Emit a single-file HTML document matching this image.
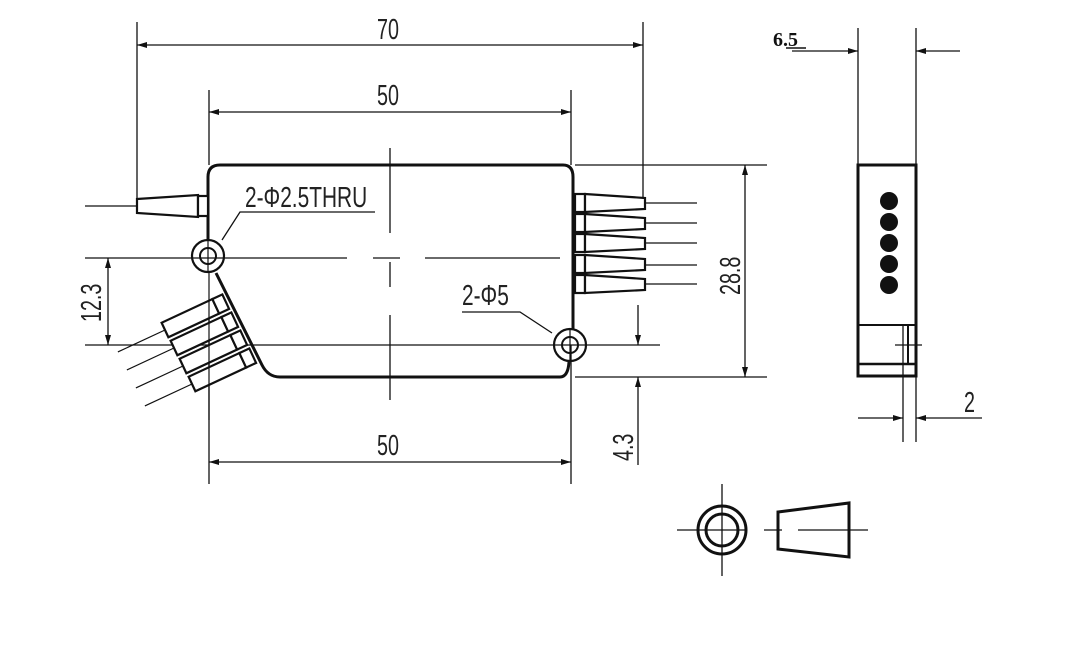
<!DOCTYPE html>
<html><head><meta charset="utf-8"><style>
html,body{margin:0;padding:0;background:#fff;}
svg{display:block}
text{font-family:"Liberation Sans",sans-serif;fill:#222;}
</style></head><body>
<svg width="1070" height="654" viewBox="0 0 1070 654" xmlns="http://www.w3.org/2000/svg">
<defs>
<marker id="a" viewBox="0 0 10 6" refX="10" refY="3" markerWidth="12" markerHeight="6" orient="auto-start-reverse" markerUnits="userSpaceOnUse"><path d="M0,0 L10,3 L0,6 z" fill="#111"/></marker>
</defs>
<g stroke="#111" fill="none" stroke-width="1.3">
<line x1="137" y1="22" x2="137" y2="205"/>
<line x1="643" y1="22" x2="643" y2="210"/>
<line x1="137" y1="45" x2="643" y2="45" marker-start="url(#a)" marker-end="url(#a)"/>
<line x1="209" y1="90" x2="209" y2="165"/>
<line x1="571" y1="90" x2="571" y2="165"/>
<line x1="209" y1="112" x2="571" y2="112" marker-start="url(#a)" marker-end="url(#a)"/>
<line x1="209" y1="300" x2="209" y2="484"/>
<line x1="571" y1="345" x2="571" y2="484"/>
<line x1="209" y1="462" x2="571" y2="462" marker-start="url(#a)" marker-end="url(#a)"/>
<line x1="575" y1="165" x2="767" y2="165"/>
<line x1="575" y1="377" x2="767" y2="377"/>
<line x1="745" y1="165" x2="745" y2="377" marker-start="url(#a)" marker-end="url(#a)"/>
<line x1="85" y1="258" x2="347" y2="258"/>
<line x1="373" y1="258" x2="400" y2="258"/>
<line x1="425" y1="258" x2="560" y2="258"/>
<line x1="85" y1="345" x2="660" y2="345"/>
<line x1="108" y1="258" x2="108" y2="345" marker-start="url(#a)" marker-end="url(#a)"/>
<line x1="638" y1="305" x2="638" y2="345" marker-end="url(#a)"/>
<line x1="638" y1="465" x2="638" y2="377" marker-end="url(#a)"/>
<line x1="390" y1="148" x2="390" y2="233"/>
<line x1="390" y1="262" x2="390" y2="287"/>
<line x1="390" y1="315" x2="390" y2="400"/>
<line x1="85" y1="206" x2="137" y2="206"/>
<line x1="645" y1="203" x2="697" y2="203"/>
<line x1="645" y1="223" x2="697" y2="223"/>
<line x1="645" y1="243" x2="697" y2="243"/>
<line x1="645" y1="265" x2="697" y2="265"/>
<line x1="645" y1="284" x2="697" y2="284"/>
<polyline points="375,212 240,212 222,240" />
<polyline points="462,312 520,312 552,333" />
</g>
<g stroke="#111" fill="none" stroke-width="3">
<path d="M208,240 L208,177 Q208,165 220,165 L563,165 Q573,165 573,177 L573,329"/>
<path d="M216,273 L262,365 Q268,377 280,377 L560,377 Q568,377 569,362"/>
<circle cx="208" cy="256" r="16" stroke-width="2.2"/>
<circle cx="208" cy="256" r="8" stroke-width="2"/>
<circle cx="570" cy="345" r="16" stroke-width="2.2"/>
<circle cx="570" cy="345" r="8" stroke-width="2"/>
</g>
<g stroke="#111" stroke-width="1.2"><line x1="208" y1="240" x2="208" y2="272"/><line x1="570" y1="329" x2="570" y2="361"/></g>
<g stroke="#111" fill="#fff" stroke-width="2.2">
<path d="M137,199 L198,195 L198,217 L137,213 Z"/>
<rect x="198" y="196" width="10" height="20"/>
</g>
<g stroke="#111" fill="#fff" stroke-width="2.2">
<g transform="translate(0,203)"><rect x="575" y="-9" width="10" height="18"/><path d="M585,-9 L645,-5 L645,6 L585,9 Z"/></g>
<g transform="translate(0,223)"><rect x="575" y="-9" width="10" height="18"/><path d="M585,-9 L645,-5 L645,6 L585,9 Z"/></g>
<g transform="translate(0,243)"><rect x="575" y="-9" width="10" height="18"/><path d="M585,-9 L645,-5 L645,6 L585,9 Z"/></g>
<g transform="translate(0,264)"><rect x="575" y="-9" width="10" height="18"/><path d="M585,-9 L645,-5 L645,6 L585,9 Z"/></g>
<g transform="translate(0,284)"><rect x="575" y="-9" width="10" height="18"/><path d="M585,-9 L645,-5 L645,6 L585,9 Z"/></g>
</g>
<g stroke="#111" stroke-width="2.2" fill="#fff">
<g transform="translate(165,330) rotate(-25)"><line x1="-52" y1="0" x2="0" y2="0" stroke-width="1.2"/><rect x="0" y="-8" width="56" height="16"/><rect x="56" y="-8" width="11" height="16"/></g>
<g transform="translate(174,348) rotate(-25)"><line x1="-52" y1="0" x2="0" y2="0" stroke-width="1.2"/><rect x="0" y="-8" width="56" height="16"/><rect x="56" y="-8" width="11" height="16"/></g>
<g transform="translate(183,366) rotate(-25)"><line x1="-52" y1="0" x2="0" y2="0" stroke-width="1.2"/><rect x="0" y="-8" width="56" height="16"/><rect x="56" y="-8" width="11" height="16"/></g>
<g transform="translate(192,384) rotate(-25)"><line x1="-52" y1="0" x2="0" y2="0" stroke-width="1.2"/><rect x="0" y="-8" width="56" height="16"/><rect x="56" y="-8" width="11" height="16"/></g>
</g>
<line x1="209" y1="272" x2="209" y2="420" stroke="#111" stroke-width="1.2"/>
<g stroke="#111" fill="none" stroke-width="1.3">
<line x1="858" y1="28" x2="858" y2="165"/>
<line x1="916" y1="28" x2="916" y2="165"/>
<line x1="792" y1="51" x2="858" y2="51" marker-end="url(#a)"/>
<line x1="960" y1="51" x2="916" y2="51" marker-end="url(#a)"/>
<line x1="903" y1="325" x2="903" y2="442"/>
<line x1="916" y1="377" x2="916" y2="442"/>
<line x1="858" y1="418" x2="903" y2="418" marker-end="url(#a)"/>
<line x1="982" y1="418" x2="916" y2="418" marker-end="url(#a)"/>
<line x1="895" y1="345" x2="922" y2="345"/>
</g>
<g stroke="#111" fill="none" stroke-width="3">
<rect x="858" y="165" width="58" height="211"/>
<line x1="858" y1="325" x2="916" y2="325" stroke-width="2"/>
<line x1="858" y1="364" x2="916" y2="364" stroke-width="2.5"/>
<line x1="908" y1="325" x2="908" y2="364" stroke-width="2"/>
</g>
<g fill="#111">
<circle cx="889" cy="201" r="9"/><circle cx="889" cy="222" r="9"/><circle cx="889" cy="243" r="9"/><circle cx="889" cy="264" r="9"/><circle cx="889" cy="285" r="9"/>
</g>
<g stroke="#111" fill="none">
<circle cx="722" cy="530" r="24" stroke-width="3"/>
<circle cx="722" cy="530" r="16" stroke-width="3"/>
<line x1="677" y1="530" x2="745" y2="530" stroke-width="1.3"/>
<line x1="722" y1="484" x2="722" y2="576" stroke-width="1.3"/>
<path d="M778,512 L849,503 L849,557 L778,549 Z" stroke-width="3"/>
<line x1="764" y1="530" x2="782" y2="530" stroke-width="1.3"/>
<line x1="798" y1="530" x2="868" y2="530" stroke-width="1.3"/>
</g>
<g font-size="29">
<text transform="translate(377,39) scale(0.68,1)">70</text>
<text transform="translate(377,105) scale(0.68,1)">50</text>
<text transform="translate(377,455) scale(0.68,1)">50</text>
<text transform="translate(245,207) scale(0.72,1)">2-Φ2.5THRU</text>
<text transform="translate(462,305) scale(0.72,1)">2-Φ5</text>
<text transform="translate(740,295) rotate(-90) scale(0.68,1)">28.8</text>
<text transform="translate(101,322) rotate(-90) scale(0.68,1)">12.3</text>
<text transform="translate(633,461) rotate(-90) scale(0.68,1)">4.3</text>
<text transform="translate(964,412) scale(0.68,1)">2</text>
</g>
<text x="773" y="46" style="font-family:'Liberation Serif',serif;font-weight:bold;font-size:20px;fill:#111">6.5</text>
<line x1="786" y1="48" x2="806" y2="48" stroke="#111" stroke-width="1.5"/>
</svg>
</body></html>
